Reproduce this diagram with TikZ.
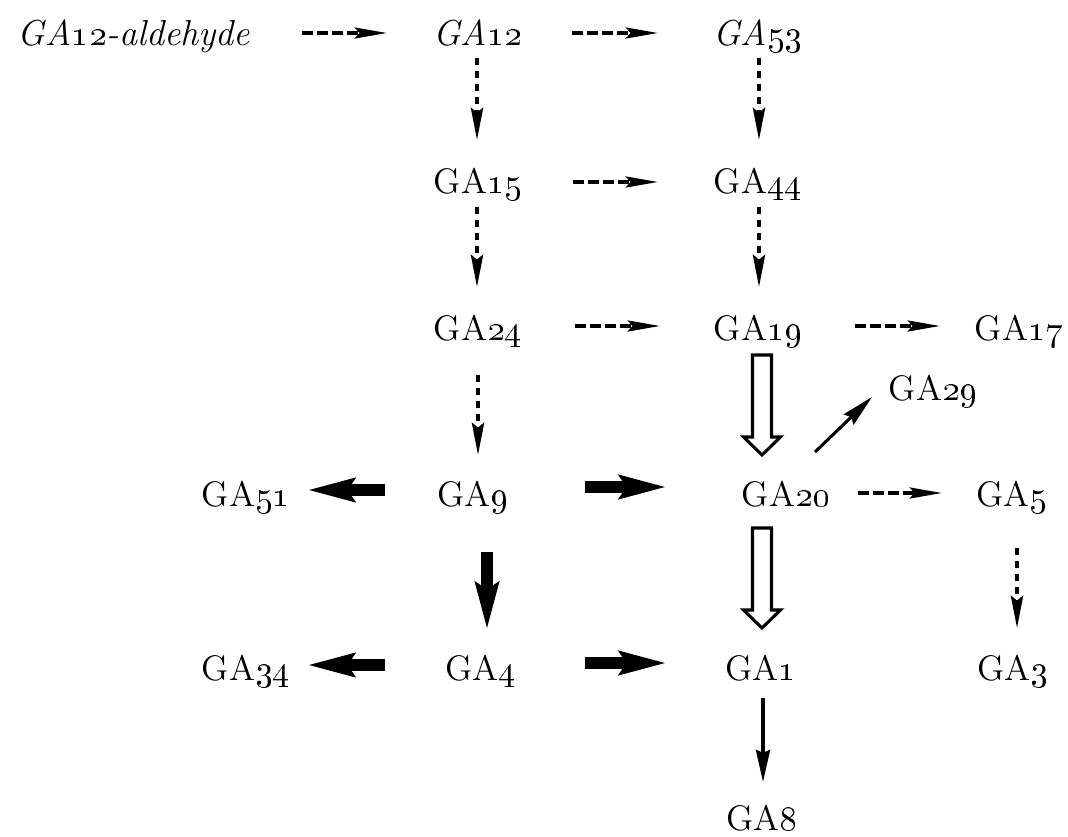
\documentclass[tikz,border=0pt]{standalone}
\usetikzlibrary{arrows.meta,calc}
\newcommand\ga[1]{GA\oldstylenums{#1}}
\newcommand\hollowdown[2]{\draw[hollow] ($#1+(-9.5,0)$) -- ($#2+(-9.5,-18)$) -- ($#2+(-18.5,-18)$) -- ($#2$) -- ($#2+(18.5,-18)$) -- ($#2+(9.5,-18)$) -- ($#1+(9.5,0)$) -- cycle;}
\begin{document}
\begin{tikzpicture}[x=0.31pt,y=-0.31pt,
  lbl/.style={anchor=base,inner sep=0pt,font=\fontsize{11}{13}\selectfont},
  ilbl/.style={anchor=base,inner sep=0pt,font=\fontsize{11.2}{13}\selectfont\itshape},
  dasharr/.style={line width=1.15pt,dash pattern=on 3.3pt off 1.4pt,-{Stealth[length=10pt,width=3.4pt,inset=1.5pt]}},
  vdasharr/.style={line width=1.1pt,dash pattern=on 2.2pt off 1.8pt,-{Stealth[length=10pt,width=3.8pt,inset=1.5pt]}},
  thinarr/.style={line width=0.95pt,-{Stealth[length=10pt,width=4.4pt,inset=1pt]}},
  thickarr/.style={line width=4pt,-{Stealth[length=14.5pt,width=7pt,inset=2pt]}},
  hollow/.style={line width=0.95pt,line join=miter,fill=white}]
\useasboundingbox (0,0) rectangle (1068,836);
% nodes
\node[ilbl] (ald) at (134,45) {GA\oldstylenums{12}-aldehyde};
\node[ilbl] (ga12) at (478,45) {\ga{12}};
\node[ilbl] (ga53) at (758,45) {\ga{53}};
\node[lbl] (ga15) at (478,193) {\ga{15}};
\node[lbl] (ga44) at (758,193) {\ga{44}};
\node[lbl] (ga24) at (478,340) {\ga{24}};
\node[lbl] (ga19) at (758,340) {\ga{19}};
\node[lbl] (ga17) at (1019,340) {\ga{17}};
\node[lbl] (ga29) at (933,400) {\ga{29}};
\node[lbl] (ga51) at (246,506) {\ga{51}};
\node[lbl] (ga9) at (473,506) {\ga{9}};
\node[lbl] (ga20) at (786,506) {\ga{20}};
\node[lbl] (ga5) at (1012,506) {\ga{5}};
\node[lbl] (ga34) at (246,680) {\ga{34}};
\node[lbl] (ga4) at (481,680) {\ga{4}};
\node[lbl] (ga1) at (761,680) {\ga{1}};
\node[lbl] (ga3) at (1013,680) {\ga{3}};
\node[lbl] (ga8) at (762,830) {\ga{8}};
% dashed horizontal
\draw[dasharr] ($(ald.base)+(168,-12)$) -- ($(ga12.base)+(-91,-12)$);
\draw[dasharr] ($(ga12.base)+(94,-12)$) -- ($(ga53.base)+(-100,-12)$);
\draw[dasharr] ($(ga15.base)+(95,-11)$) -- ($(ga44.base)+(-100,-11)$);
\draw[dasharr] ($(ga24.base)+(97,-14)$) -- ($(ga19.base)+(-98,-14)$);
\draw[dasharr] ($(ga19.base)+(97,-14)$) -- ($(ga17.base)+(-79,-14)$);
\draw[dasharr] ($(ga20.base)+(72,-13)$) -- ($(ga5.base)+(-70,-13)$);
% dashed vertical
\draw[vdasharr] ($(ga12.base)+(-1,13)$) -- ($(ga15.base)+(-1,-53)$);
\draw[vdasharr] ($(ga53.base)+(1,13)$) -- ($(ga44.base)+(1,-53)$);
\draw[vdasharr] ($(ga15.base)+(-1,14)$) -- ($(ga24.base)+(-1,-53)$);
\draw[vdasharr] ($(ga44.base)+(1,14)$) -- ($(ga19.base)+(1,-53)$);
\draw[vdasharr] ($(ga24.base)+(0,35)$) -- ($(ga9.base)+(5,-51)$);
\draw[vdasharr] ($(ga5.base)+(5,42)$) -- ($(ga3.base)+(4,-52)$);
% thin solid
\draw[thinarr] ($(ga20.base)+(29,-54)$) -- ($(ga29.base)+(-61,-3)$);
\draw[thinarr] ($(ga1.base)+(2,18)$) -- ($(ga8.base)+(1,-48)$);
% thick
\draw[thickarr] ($(ga9.base)+(-88,-16)$) -- ($(ga51.base)+(61,-16)$);
\draw[thickarr] ($(ga9.base)+(112,-19)$) -- ($(ga20.base)+(-119,-19)$);
\draw[thickarr] ($(ga9.base)+(14,46)$) -- ($(ga4.base)+(6,-50)$);
\draw[thickarr] ($(ga4.base)+(-96,-15)$) -- ($(ga34.base)+(61,-15)$);
\draw[thickarr] ($(ga4.base)+(104,-17)$) -- ($(ga1.base)+(-94,-17)$);
% hollow
\hollowdown{(ga19.base)+(4,15)}{(ga20.base)+(-24,-51)}
\hollowdown{(ga20.base)+(-24,22)}{(ga1.base)+(1,-52)}
\end{tikzpicture}
\end{document}
